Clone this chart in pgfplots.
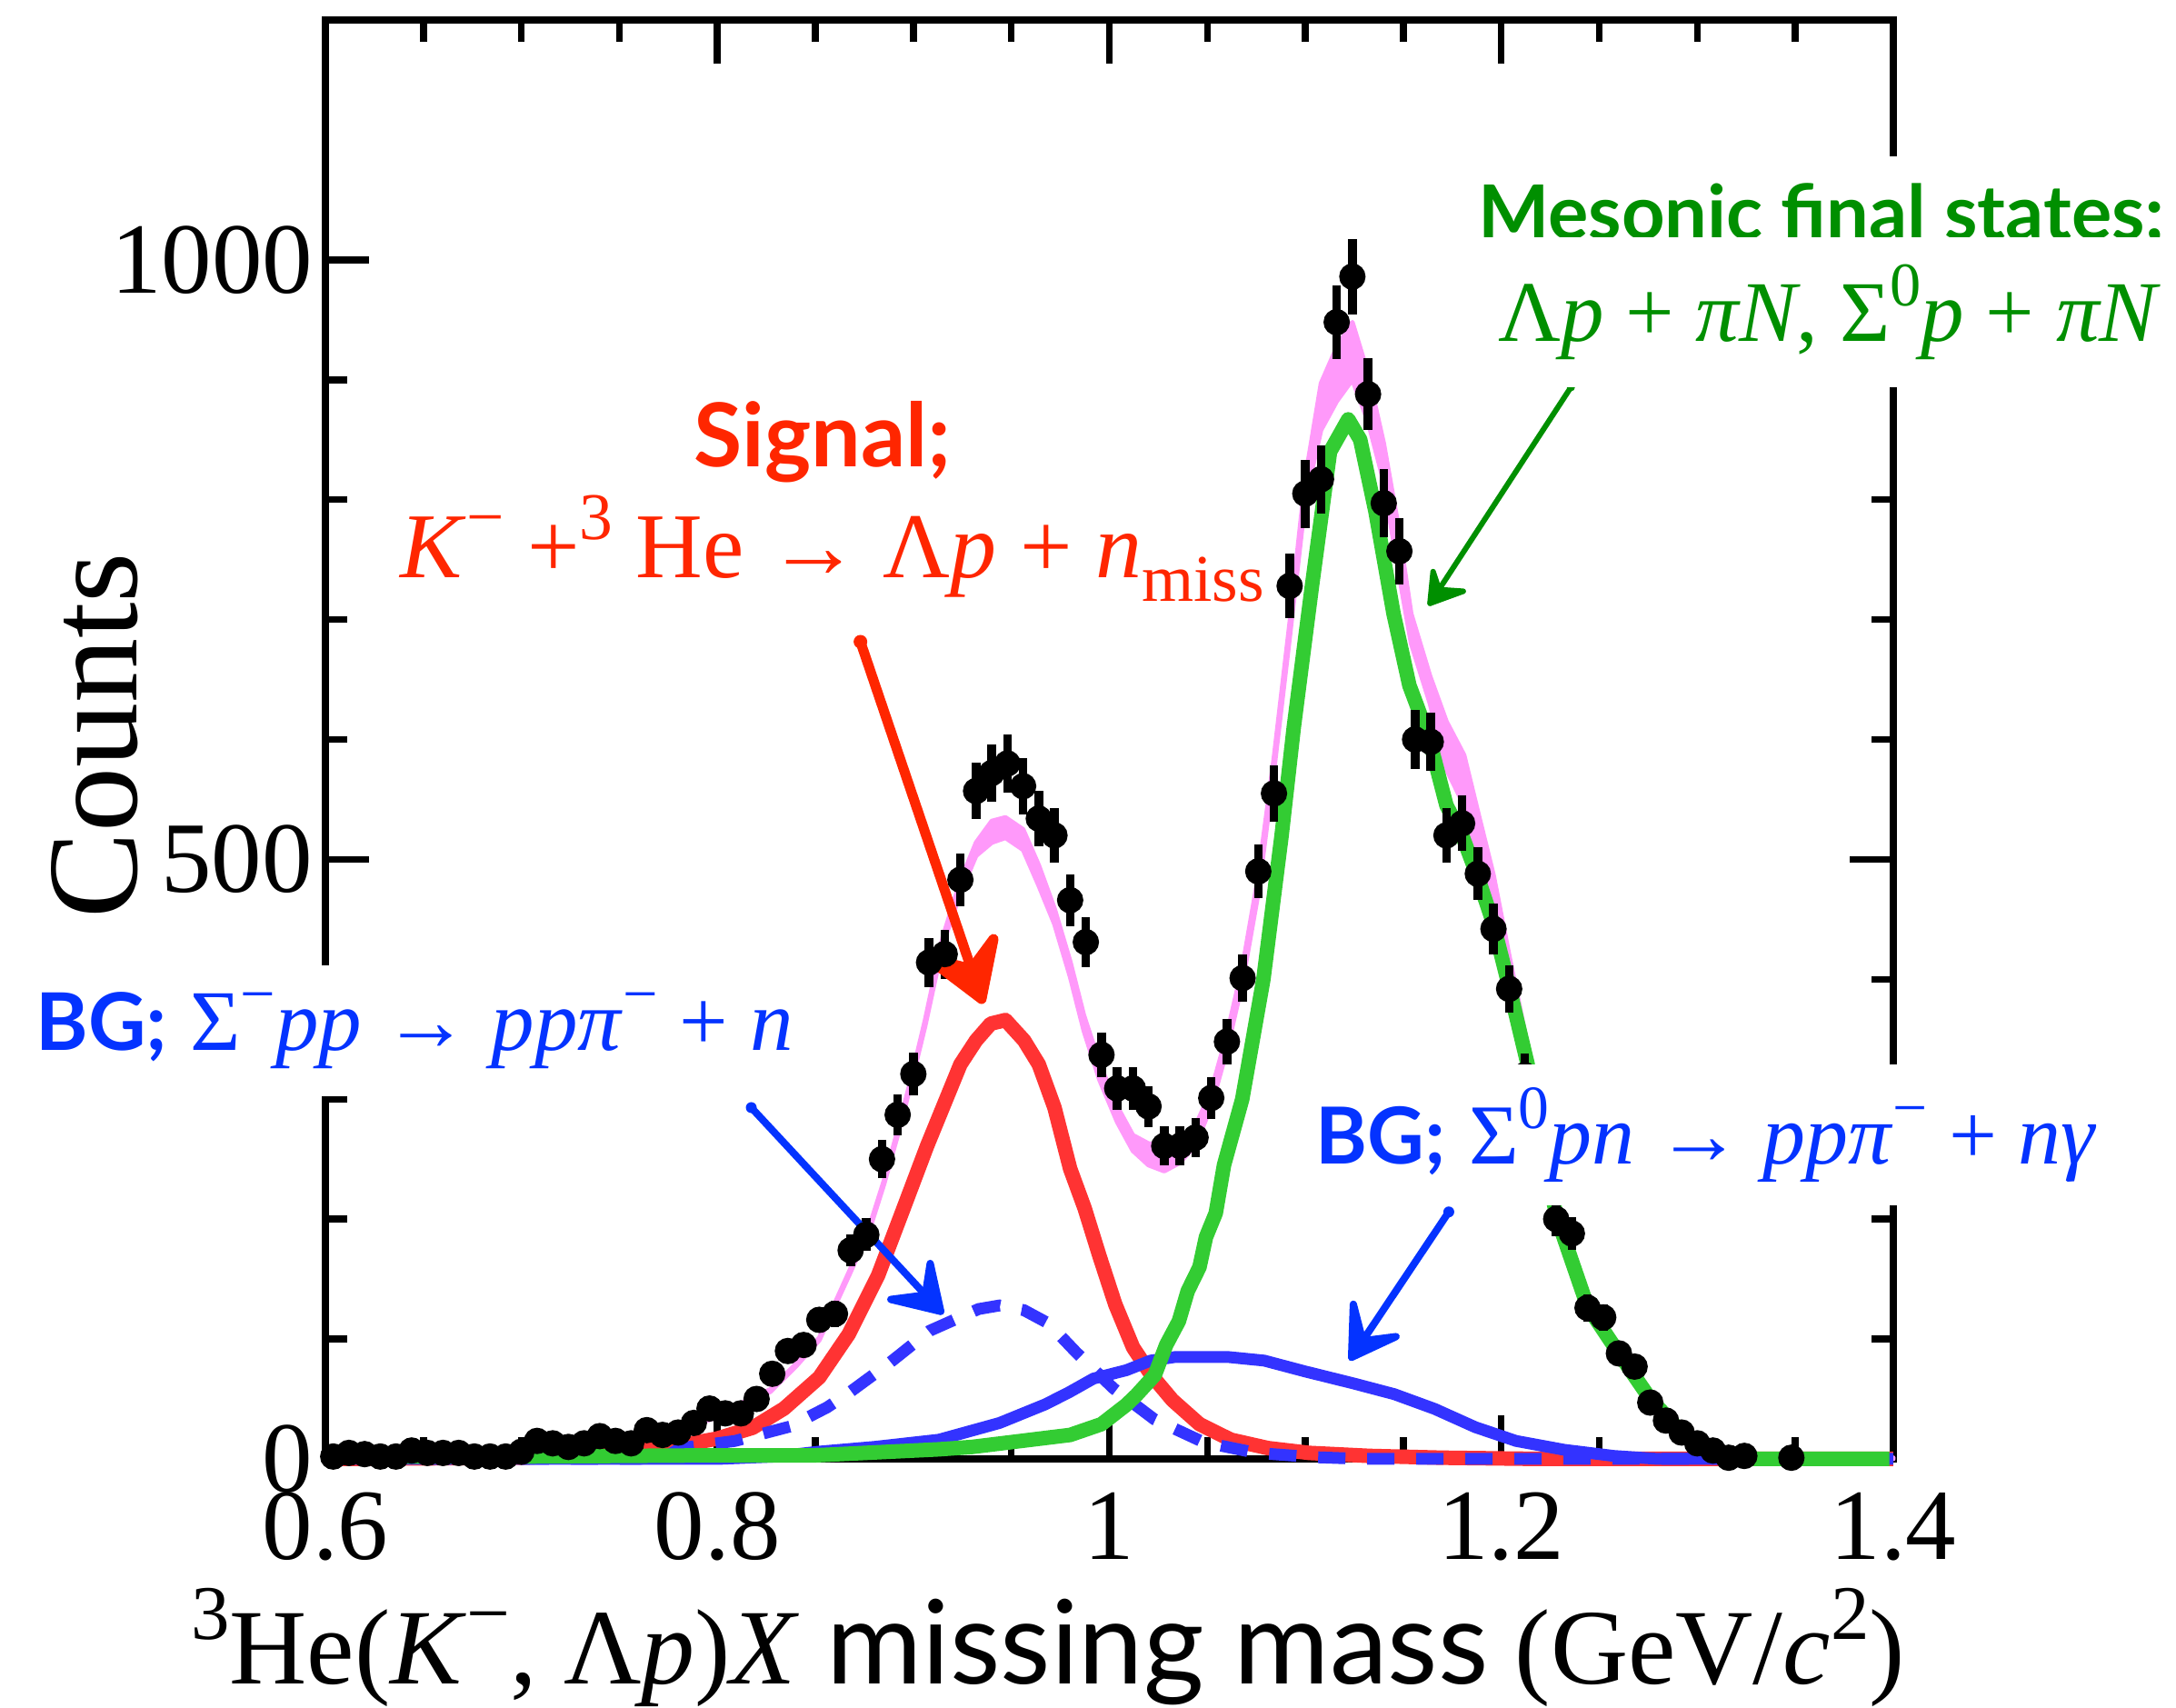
\documentclass[border=0pt]{standalone}
\usepackage{fontspec}
\setmainfont{Liberation Serif}
\newfontfamily\lato{Lato}
\usepackage{graphicx}
\usepackage{pgfplots}
\usepackage{pgfplotstable}
\pgfplotsset{compat=1.18}
\definecolor{cpink}{RGB}{255,153,250}
\definecolor{cred}{RGB}{255,51,51}
\definecolor{cgreen}{RGB}{51,204,51}
\definecolor{cblue}{RGB}{51,51,255}
\definecolor{tred}{RGB}{255,38,0}
\definecolor{tgreen}{RGB}{0,143,0}
\definecolor{tblue}{RGB}{4,51,255}
\newcommand{\Sup}[1]{\raisebox{0.42em}{\scalebox{0.72}{#1}}}
\newcommand{\Sub}[1]{\raisebox{-0.25em}{\scalebox{0.72}{#1}}}
\newcommand{\fs}[1]{\fontsize{#1}{#1}\selectfont}

\pgfplotstableread{
x y
0.604 2
0.612 5
0.620 4
0.628 2
0.636 2
0.644 7
0.652 5
0.660 5
0.668 5
0.676 2
0.684 2
0.692 2
0.700 6
0.708 15
0.716 13
0.724 10
0.732 13
0.740 19
0.748 15
0.756 13
0.764 24
0.772 20
0.780 22
0.788 30
0.796 42
0.804 38
0.812 38
0.820 50
0.828 71
0.836 90
0.844 95
0.852 116
0.860 121
0.868 174
0.876 187
0.884 250
0.892 287
0.900 321
0.908 414
0.916 421
0.924 483
0.932 557
0.940 572
0.948 580
0.956 561
0.964 534
0.972 520
0.980 466
0.988 431
0.996 337
1.004 309
1.012 309
1.020 294
1.028 261
1.036 261
1.044 268
1.052 301
1.060 348
1.068 401
1.076 490
1.084 555
1.092 728
1.100 805
1.108 817
1.116 948
1.124 986
1.132 888
1.140 797
1.148 757
1.156 600
1.164 598
1.172 520
1.180 530
1.188 488
1.196 442
1.204 392
1.212 320
1.220 262
1.228 200
1.236 188
1.244 126
1.252 118
1.260 88
1.268 77
1.276 47
1.284 32
1.292 22
1.300 13
1.308 7
1.316 1
1.324 2.5
1.348 1
}\datatable

\begin{document}
\begin{tikzpicture}
\begin{axis}[
  at={(35.8pt,27.4pt)}, anchor=south west,
  scale only axis, width=172.5pt, height=158.3pt,
  xmin=0.6, xmax=1.4, ymin=0, ymax=1200,
  xtick={0.6,0.8,1,1.2,1.4}, xticklabels={0.6,0.8,1,1.2,1.4},
  minor x tick num=3,
  ytick={0,500,1000}, yticklabels={0,500,1000},
  minor y tick num=4,
  tick align=inside,
  major tick length=4.8pt, minor tick length=2.4pt,
  tick style={black, line width=0.75pt},
  axis line style={line width=0.8pt},
  ticklabel style={font=\fs{11.1pt}},
  xticklabel style={inner sep=0pt, anchor=north, yshift=-3.5pt},
  yticklabel style={inner sep=0pt, anchor=east, xshift=-1.2pt},
  clip=false,
]
% total fit band
\addplot[fill=cpink, draw=cpink, line width=0.5pt, line join=round] coordinates {
(0.60,4)(0.70,5)(0.74,9)(0.76,14)(0.788,30)(0.80,37)(0.827,58)(0.84,79)(0.852,101)(0.868,159)(0.878,196)(0.885,232)(0.892,274)(0.899,318)(0.906,366)(0.915,435)(0.924,482)(0.932,514)(0.940,532)(0.947,535)(0.956,525)(0.964,495)(0.972,459)(0.980,415)(0.987,370)(0.995,330)(1.004,294)(1.012,270)(1.020,263)(1.028,262)(1.036,267)(1.044,278)(1.052,307)(1.060,354)(1.068,411)(1.076,486)(1.084,585)(1.092,697)(1.100,818)(1.108,897)(1.116,927)(1.124,948)(1.132,905)(1.140,847)(1.147,782)(1.154,705)(1.1636,653)(1.172,615)(1.181,587)(1.188,540)(1.196,487)(1.204,420)(1.213,348)(1.228,212)(1.244,130)(1.26,90)(1.276,52)(1.292,24)(1.31,6)(1.33,1)(1.40,1)
(1.40,0)(1.33,0)(1.31,4)(1.292,20)(1.276,48)(1.26,86)(1.244,126)(1.228,205)(1.213,335)(1.204,400)(1.196,458)(1.188,500)(1.181,545)(1.172,575)(1.1636,630)(1.154,680)(1.147,745)(1.140,815)(1.132,865)(1.124,900)(1.116,882)(1.108,858)(1.100,800)(1.092,685)(1.084,574)(1.076,472)(1.068,398)(1.060,341)(1.052,294)(1.044,262)(1.036,247)(1.028,240)(1.020,245)(1.012,257)(1.004,281)(0.995,316)(0.987,357)(0.980,402)(0.972,446)(0.964,478)(0.956,508)(0.947,518)(0.940,514)(0.932,503)(0.924,472)(0.915,429)(0.906,361)(0.899,314)(0.892,270)(0.885,229)(0.878,193)(0.868,156)(0.852,99)(0.84,77)(0.827,56)(0.80,35)(0.788,28)(0.76,12)(0.74,7)(0.70,3)(0.60,2)
} -- cycle;
% signal
\addplot[cred, line width=1.6pt, line join=round] coordinates {
(0.60,0)(0.70,1)(0.74,4)(0.76,8)(0.78,11)(0.80,17)(0.818,26)(0.834,42)(0.852,68)(0.867,104)(0.882,153)(0.895,209)(0.907,261)(0.915,293)(0.924,329)(0.932,349)(0.9395,363)(0.947,366)(0.9565,349)(0.964,329)(0.972,293)(0.980,242)(0.9874,209)(0.995,169)(1.003,129)(1.0121,93)(1.0214,70)(1.0322,49)(1.046,29)(1.062,16)(1.081,9)(1.102,5)(1.133,2.5)(1.17,1)(1.22,0)(1.40,0)
};
% BG Sigma- pp (dashed)
\addplot[cblue, line width=1.3pt, dash pattern=on 3pt off 2.4pt] coordinates {
(0.60,0)(0.76,0)(0.775,3)(0.781,9)(0.809,15)(0.837,27)(0.856,43)(0.867,55)(0.887,79)(0.9085,107)(0.9333,125)(0.944,128)(0.9565,124)(0.969,113)(0.983,89)(1.002,59)(1.023,33)(1.048,14)(1.075,5)(1.104,1.5)(1.13,0)(1.40,0)
};
% BG Sigma0 pn (solid blue)
\addplot[cblue, line width=1.3pt, line join=round] coordinates {
(0.60,0)(0.80,0)(0.83,2)(0.8514,6)(0.88,10)(0.913,16)(0.944,30)(0.9673,45.5)(0.9795,55.6)(0.9919,67)(1.0087,74)(1.0211,82)(1.0336,85)(1.0605,85)(1.079,82)(1.0998,73)(1.1245,63)(1.1454,54)(1.166,41.7)(1.1867,26.5)(1.2075,15)(1.2321,7.6)(1.2573,2.5)(1.28,0)(1.40,0)
};
% mesonic final states (green)
\addplot[cgreen, line width=1.6pt, line join=round] coordinates {
(0.60,2)(0.70,2)(0.80,3)(0.85,3)(0.913,8)(0.93,10)(0.96,16)(0.98,20)(0.996,29)(1.0086,45)(1.0137,53)(1.0232,70)(1.029,95)(1.0355,115)(1.04,140)(1.046,160)(1.0493,185)(1.0543,205)(1.0585,245)(1.0678,300)(1.0786,400)(1.0879,520)(1.0941,610)(1.1033,727)(1.1126,840)(1.1219,867)(1.128,850)(1.1358,790)(1.145,705)(1.1531,645)(1.1577,625)(1.1636,598)(1.172,545)(1.180,520)(1.1876,487)(1.1958,447)(1.2041,393)(1.2133,330)(1.228,203)(1.244,127)(1.26,88)(1.276,50)(1.292,22)(1.30,13)(1.31,5)(1.32,1.5)(1.33,0)(1.398,0)
};
% data
\addplot[only marks, mark=*, mark size=1.25pt, black,
  error bars/.cd, y dir=both, y explicit, error mark=none,
  error bar style={line width=0.95pt, black}]
  table[x=x, y=y, y error expr={sqrt(\thisrow{y})}] {\datatable};
% arrows
% red
\draw[tred, line width=1.1pt, line cap=round] (axis cs:0.873,681.5) -- (axis cs:0.9348,383.6);
\fill[tred] (axis cs:0.873,681.5) circle (0.75pt);
\draw[tred, line width=1.1pt, line join=round, line cap=round, fill=tred] (axis cs:0.907,418) -- (axis cs:0.9348,383.6) -- (axis cs:0.9409,433.6) -- (axis cs:0.9296,408.6) -- cycle;
% blue 1
\draw[tblue, line width=0.8pt, line cap=round] (axis cs:0.8173,293) -- (axis cs:0.914,123);
\fill[tblue] (axis cs:0.8173,293) circle (0.6pt);
\draw[tblue, line width=0.8pt, line join=round, line cap=round, fill=tblue] (axis cs:0.8885,133) -- (axis cs:0.914,123) -- (axis cs:0.9086,163) -- (axis cs:0.9061,136.7) -- cycle;
% blue 2
\draw[tblue, line width=0.8pt, line cap=round] (axis cs:1.1732,206) -- (axis cs:1.1236,84.7);
\fill[tblue] (axis cs:1.1732,206) circle (0.6pt);
\draw[tblue, line width=0.8pt, line join=round, line cap=round, fill=tblue] (axis cs:1.1245,129) -- (axis cs:1.1236,84.7) -- (axis cs:1.1463,102) -- (axis cs:1.1293,98.5) -- cycle;
% green
\draw[tgreen, line width=0.6pt, line cap=round] (axis cs:1.2355,893.7) -- (axis cs:1.1636,713.5);
\fill[tgreen] (axis cs:1.2355,893.7) circle (0.45pt);
\draw[tgreen, line width=0.6pt, line join=round, line cap=round, fill=tgreen] (axis cs:1.1652,740) -- (axis cs:1.1636,713.5) -- (axis cs:1.1806,723.6) -- (axis cs:1.1682,725) -- cycle;
\end{axis}

% axis titles
\node[rotate=90, anchor=center, inner sep=0pt] at (10.4pt,107.0pt) {\fs{14.2pt}Counts};
\node[anchor=base, inner sep=0pt] at (115.3pt,2.6pt) {\fs{11.8pt}\Sup{3}He(\textit{K}\Sup{−}, Λ\textit{p})\textit{X} {\lato\fs{12.8pt}missing mass} (GeV/\textit{c}\Sup{2})};

% annotations
\node[anchor=base, inner sep=0pt, text=tred] at (90.5pt,136.5pt) {\lato\bfseries\fs{9.7pt}Signal;};
\node[anchor=base, inner sep=0pt, text=tred] at (91.6pt,124.3pt) {\fs{10.2pt}\textit{K}\Sup{−} +\Sup{3} He → Λ\textit{p} + \textit{n}\Sub{miss}};

\node[anchor=base, fill=white, inner sep=3pt, text=tgreen] at (200.4pt,161.5pt) {\lato\bfseries\fs{8.3pt}Mesonic final states;};
\node[anchor=base, fill=white, inner sep=3pt, text=tgreen] at (201.3pt,150.3pt) {\fs{9.5pt}Λ\textit{p} + \textit{πN}, Σ\Sup{0}\textit{p} + \textit{πN}};

\node[anchor=base, fill=white, inner sep=3pt, text=tblue] at (45.6pt,72.3pt) {{\lato\bfseries\fs{8.75pt}BG;} {\fs{9.5pt}Σ\Sup{−}\textit{pp} → \textit{ppπ}\Sup{−} + \textit{n}}};
\node[anchor=base, fill=white, inner xsep=3pt, inner ysep=2.5pt, text=tblue] at (187.75pt,59.8pt) {{\lato\bfseries\fs{8.65pt}BG;} {\fs{9.4pt}Σ\Sup{0}\textit{pn} → \textit{ppπ}\Sup{−} + \textit{nγ}}};

\pgfresetboundingbox
\path[use as bounding box] (0,0) rectangle (239.4pt,187.9pt);
\end{tikzpicture}
\end{document}
